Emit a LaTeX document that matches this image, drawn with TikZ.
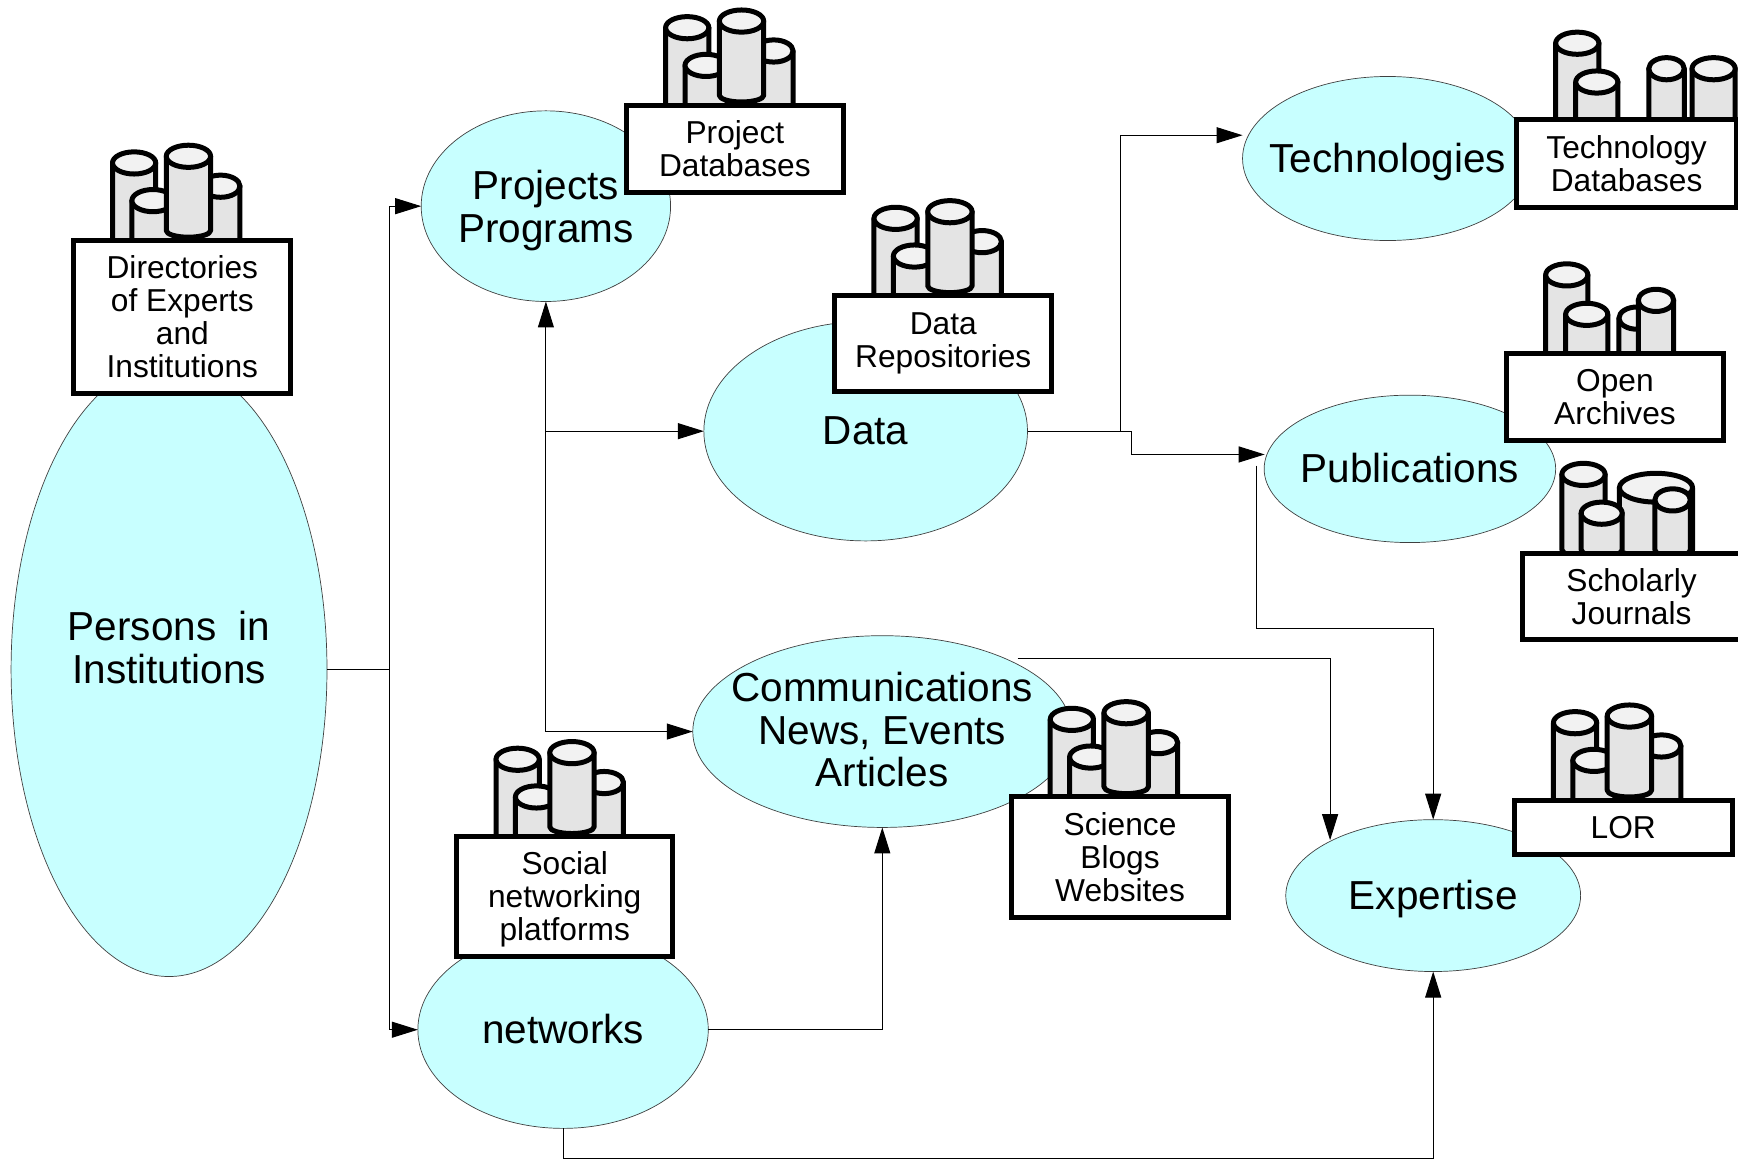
\documentclass[tikz,border=0pt]{standalone}
\usepackage{fontspec}
\setmainfont{Liberation Sans}
\usetikzlibrary{shapes.geometric,arrows.meta}
\def\pxu{1.1084pt}
\definecolor{cyanfill}{HTML}{C8FFFF}
\definecolor{bodyfill}{HTML}{E4E4E4}
\definecolor{capfill}{HTML}{F2F2F2}
\tikzset{
  bubble/.style 2 args={ellipse,draw=black!75,line width=0.7pt,fill=cyanfill,inner sep=0pt,outer sep=0pt,
    minimum width=#1*\pxu,minimum height=#2*\pxu,font=\fontsize{40.5}{42.5}\selectfont},
  dbbox/.style 2 args={rectangle,draw=black,line width=5pt,fill=white,inner sep=0pt,outer sep=0pt,
    minimum width=#1*\pxu,minimum height=#2*\pxu,align=center,font=\fontsize{31.7}{33}\selectfont},
  link/.style={draw=black,line width=1pt},
  arr/.style={link,-{Triangle[length=26pt,width=16pt]}},
  cylstroke/.style={draw=black,line width=5pt,line join=round}
}
% bubble text that does not widen the ellipse: vertical offset, lines
\newcommand\btxt[2]{\makebox[0pt]{\raisebox{#1}[0pt][0pt]{\begin{tabular}{@{}c@{}}#2\end{tabular}}}}
% centre x, top y, rx, ry, y where the straight side ends
\newcommand\cyl[5]{%
  \path[cylstroke,fill=bodyfill] (#1-#3,#2) -- (#1-#3,#5)
    arc[start angle=180,end angle=0,x radius=#3,y radius=6] -- (#1+#3,#2) -- cycle;
  \path[cylstroke,fill=capfill] (#1,#2) ellipse[x radius=#3,y radius=#4];
}
\newcommand\stdgroup[2]{%
  \begin{scope}[shift={(#1,#2)}]
    \cyl{56}{-69}{19.5}{10}{0}
    \cyl{134}{-48}{17.5}{10}{0}
    \cyl{73}{-35}{19}{10}{0}
    \cyl{105}{-75}{20}{10}{-8}
  \end{scope}}
\begin{document}
\begin{tikzpicture}[x=1.1084pt,y=-1.1084pt]
\clip (0,0) rectangle (1568,1045.7);
% bubbles
\node[bubble={285}{554}] (persons) at (152.5,604) {\btxt{10pt}{Persons\ \ in\\Institutions}};
\node[bubble={225}{172}] (projects) at (492.5,186) {\btxt{-12.5pt}{Projects\\Programs}};
\node[bubble={292}{198}] (data) at (781,389) {\btxt{-11pt}{Data}};
\node[bubble={262}{148}] (tech) at (1252,143) {\btxt{-12pt}{Technologies}};
\node[bubble={263}{133}] (pubs) at (1272,423) {\btxt{-11pt}{Publications}};
\node[bubble={342}{173}] (comms) at (796,660) {\btxt{-10.5pt}{Communications\\News, Events\\Articles}};
\node[bubble={262}{178}] (nets) at (508,929) {\btxt{-11pt}{networks}};
\node[bubble={266}{137}] (expert) at (1293,808) {\btxt{-12pt}{Expertise}};
% connector ends and bends
\coordinate (j1) at (351,604);
\coordinate (j2) at (492.5,389);
\coordinate (j3) at (492.5,660);
\coordinate (j4) at (1011,389);
\coordinate (j5) at (1021,389);
\coordinate (techin) at (1121,122);
\coordinate (pubin) at (1141,410);
\coordinate (pubout) at (1134,420);
\coordinate (pubmid) at (1293,567);
\coordinate (comout) at (918,594);
\coordinate (exin) at (1200,758);
\coordinate (netlow) at (508,1045);
\coordinate (netturn) at (1293,1045);
% connectors
\draw[link] (persons.east) -- (j1);
\draw[arr] (j1) |- (projects.west);
\draw[arr] (j1) |- (nets.west);
\draw[arr] (j3) -- (projects.south);
\draw[arr] (j2) -- (data.west);
\draw[arr] (j3) -- (comms.west);
\draw[link] (data.east) -- (j5);
\draw[arr] (j4) |- (techin);
\draw[arr] (j5) |- (pubin);
\draw[arr] (pubout) |- (pubmid) -- (expert.north);
\draw[arr] (comout) -| (exin);
\draw[arr] (nets.east) -| (comms.south);
\draw[arr] (nets.south) -- (netlow) -- (netturn) -- (expert.south);
% database groups and boxes
\stdgroup{65}{216}
\node[dbbox={196}{138}] (dir) at (164.5,286) {Directories\\of Experts\\and\\Institutions};
\stdgroup{564}{94}
\node[dbbox={196}{79}] (projdb) at (663,134.5) {Project\\Databases};
\stdgroup{752}{266}
\node[dbbox={196}{86}] (datarep) at (851,310) {Data\\Repositories};
\stdgroup{911}{718}
\node[dbbox={196}{109}] (sci) at (1010.5,773.5) {Science\\Blogs\\Websites};
\stdgroup{411}{754}
\node[dbbox={195}{108}] (social) at (509.5,809) {\rule{0pt}{29pt}Social\\networking\\platforms};
\stdgroup{1365}{721}
\node[dbbox={197}{49}] (lor) at (1464.5,746.5) {LOR};
% technology group
\begin{scope}[shift={(1367,107)}]
  \cyl{56}{-68}{19.5}{10}{0}
  \cyl{73.6}{-33}{19}{10}{0}
  \cyl{136.5}{-45}{16}{10}{0}
  \cyl{179}{-45}{19.5}{10}{0}
\end{scope}
\node[dbbox={199}{79}] (techdb) at (1467.5,147.5) {Technology\\Databases};
% open archives group
\begin{scope}[shift={(1358,318)}]
  \cyl{55.5}{-70}{19}{10}{0}
  \cyl{73.5}{-34.4}{19}{10}{0}
  \cyl{118.6}{-31}{16}{10}{0}
  \cyl{136}{-47}{16}{10}{0}
\end{scope}
\node[dbbox={196}{78}] (open) at (1457,358) {Open\\Archives};
% scholarly journals group
\begin{scope}[shift={(1371,496)}]
  \cyl{57.6}{-68}{19.5}{10}{0}
  \cyl{123}{-56}{33}{13}{0}
  \cyl{74}{-33}{18.5}{10}{0}
  \cyl{138}{-45}{16}{10}{0}
\end{scope}
\node[dbbox={196}{78}] (schol) at (1472,538) {Scholarly\\Journals};
\end{tikzpicture}
\end{document}
